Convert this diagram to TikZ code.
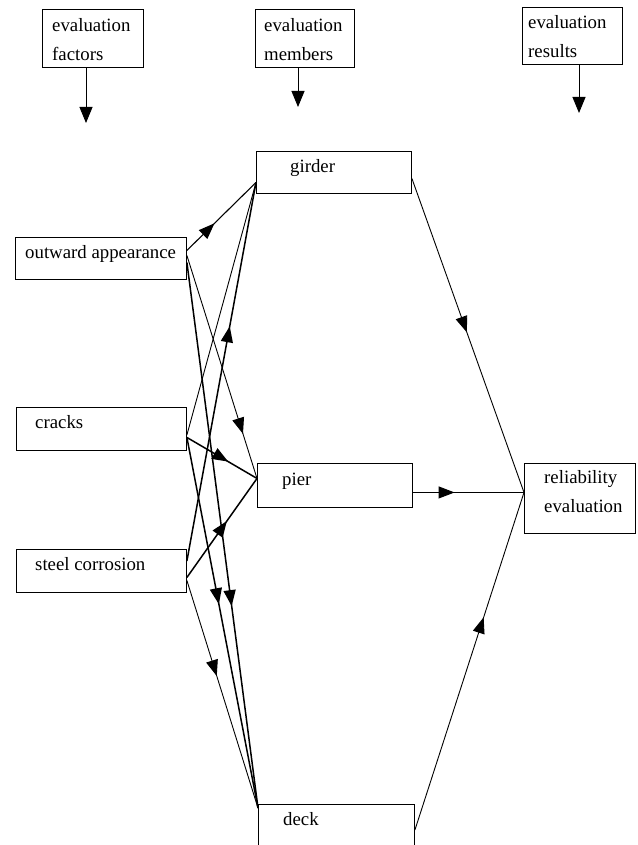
\documentclass[tikz,border=0pt]{standalone}
\usepackage{fontspec}
\setmainfont{Liberation Serif}
\usetikzlibrary{arrows.meta,decorations.markings}
\begin{document}
\begin{tikzpicture}[x=1pt,y=-1pt,
  box/.style={draw, line width=0.9pt, rectangle, inner sep=0pt, anchor=north west},
  lbl/.style={inner sep=0pt, anchor=base west, font=\fontsize{18.8pt}{29pt}\selectfont},
  lbltwo/.style={inner sep=0pt, anchor=north west, align=left, font=\fontsize{18.8pt}{29pt}\selectfont},
  conn/.style={line width=0.9pt},
  heavy/.style={line width=1.5pt},
  arrowat/.style={postaction={decorate,decoration={markings,mark=at position #1 with {\arrow{Triangle[length=16pt,width=12pt]}}}}},
  hdrarrow/.style={line width=0.9pt,-{Triangle[length=16pt,width=13pt]}}
]
\useasboundingbox (0,0) rectangle (637,845);
\fill[white] (0,0) rectangle (637,845);

% header boxes
\node[box, minimum width=101pt, minimum height=58pt] (hf) at (42,9) {};
\node[box, minimum width=99pt, minimum height=58pt] (hm) at (255,9) {};
\node[box, minimum width=100pt, minimum height=57pt] (hr) at (522,7) {};
\node[lbltwo] (hfT) at (52,18) {evaluation\\factors};
\node[lbltwo] (hmT) at (264,18) {evaluation\\members};
\node[lbltwo] (hrT) at (528,15) {evaluation\\results};
\coordinate (hfE) at (86,123);
\coordinate (hmE) at (298,107);
\coordinate (hrE) at (579,113);
\draw[hdrarrow] (hf.south -| hfE) -- (hfE);
\draw[hdrarrow] (hm.south -| hmE) -- (hmE);
\draw[hdrarrow] (hr.south -| hrE) -- (hrE);

% factor boxes
\node[box, minimum width=171pt, minimum height=42pt] (outward) at (15,237) {};
\node[box, minimum width=170pt, minimum height=43pt] (cracks) at (16,407) {};
\node[box, minimum width=170pt, minimum height=43pt] (steel) at (16,549) {};
\node[lbl] (outwardT) at (25,258) {outward appearance};
\node[lbl] (cracksT) at (35,428) {cracks};
\node[lbl] (steelT) at (35,570) {steel corrosion};

% member boxes
\node[box, minimum width=155pt, minimum height=42pt] (girder) at (256,151) {};
\node[box, minimum width=155pt, minimum height=44pt] (pier) at (257,463) {};
\node[box, minimum width=156pt, minimum height=50pt] (deck) at (258,804) {};
\node[lbl] (girderT) at (290,173) {girder};
\node[lbl] (pierT) at (282,485) {pier};
\node[lbl] (deckT) at (283,825) {deck};

% result box
\node[box, minimum width=111pt, minimum height=70pt] (rel) at (524,463) {};
\node[lbltwo] (relT) at (544,470) {reliability\\evaluation};

% factors -> members
\draw[conn, line width=1.1pt, arrowat=0.4] ([yshift=8pt]outward.east) -- ([yshift=-10pt]girder.west);
\draw[conn, arrowat=0.8] ([yshift=3pt]outward.east) -- ([yshift=7pt]pier.west);
\draw[heavy, arrowat=0.63] ([yshift=-4pt]outward.east) -- ([yshift=-4pt]deck.north west);

\draw[conn] ([yshift=-6pt]cracks.east) -- ([yshift=-10pt]girder.west);
\draw[heavy, arrowat=0.59] ([yshift=-8.5pt]cracks.east) -- ([yshift=7pt]pier.west);
\draw[heavy, arrowat=0.45] ([yshift=-8.5pt]cracks.east) -- ([yshift=-4pt]deck.north west);

\draw[heavy, arrowat=0.62] ([yshift=10pt]steel.east) -- ([yshift=-10pt]girder.west);
\draw[heavy, arrowat=0.57] ([yshift=-6.5pt]steel.east) -- ([yshift=7pt]pier.west);
\draw[conn, arrowat=0.42] ([yshift=-9.5pt]steel.east) -- ([yshift=-4pt]deck.north west);

% members -> result
\draw[conn, arrowat=0.49] ([yshift=-6pt]girder.east) -- ([yshift=6pt]rel.west);
\draw[conn, arrowat=0.375] ([yshift=-7pt]pier.east) -- ([yshift=6pt]rel.west);
\draw[conn, arrowat=0.63] ([yshift=-26pt]deck.north east) -- ([yshift=6pt]rel.west);
\end{tikzpicture}
\end{document}
